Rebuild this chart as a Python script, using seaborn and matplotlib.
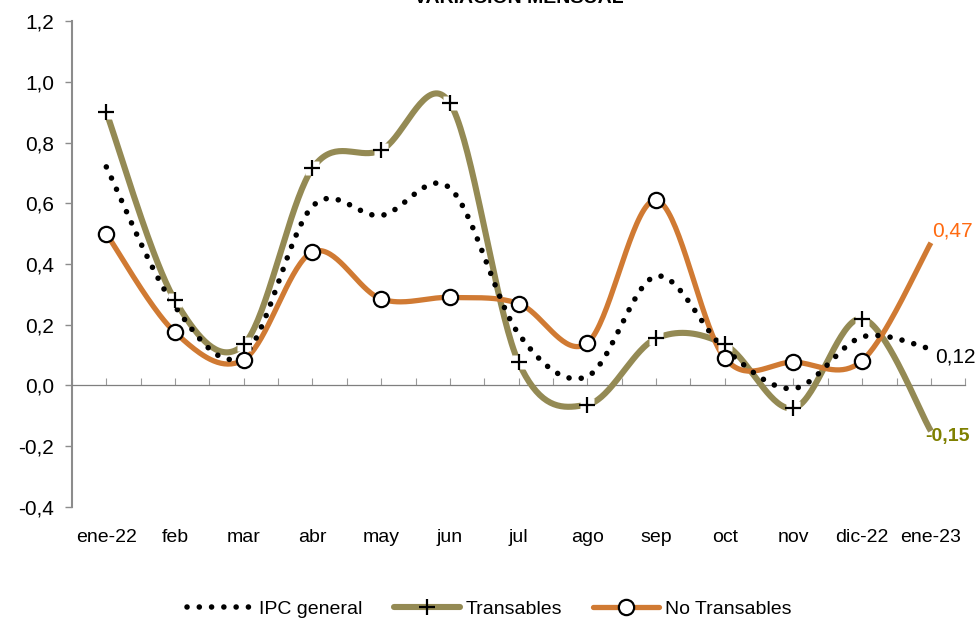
import numpy as np
import pandas as pd
import matplotlib
matplotlib.use('Agg')
import matplotlib.pyplot as plt
import seaborn as sns
from matplotlib.lines import Line2D
from matplotlib.ticker import FuncFormatter

meses = ['ene-22', 'feb', 'mar', 'abr', 'may', 'jun', 'jul', 'ago', 'sep', 'oct', 'nov', 'dic-22', 'ene-23']
ipc_general = [0.72, 0.26, 0.10, 0.59, 0.56, 0.65, 0.17, 0.03, 0.36, 0.12, -0.01, 0.16, 0.12]
transables = [0.90, 0.28, 0.135, 0.715, 0.775, 0.93, 0.076, -0.063, 0.155, 0.135, -0.075, 0.22, -0.15]
no_transables = [0.50, 0.175, 0.085, 0.44, 0.285, 0.29, 0.27, 0.14, 0.61, 0.09, 0.077, 0.082, 0.47]

sns.set_theme(style='white')
plt.rcParams['font.family'] = ['Liberation Sans', 'DejaVu Sans']
plt.rcParams['text.color'] = 'black'
plt.rcParams['xtick.labelcolor'] = 'black'
plt.rcParams['ytick.labelcolor'] = 'black'

OLIVA = '#948A54'
NARANJA = '#D07A33'
FS = 14


def suavizar(y, n=40):
    # curva suavizada tipo Excel (Bezier con puntos de control Catmull-Rom)
    x = np.arange(len(y), dtype=float)
    y = np.asarray(y, dtype=float)
    xs, ys = [], []
    for i in range(len(y) - 1):
        i0, i3 = max(i - 1, 0), min(i + 2, len(y) - 1)
        p0, p1, p2, p3 = [np.array([x[k], y[k]]) for k in (i0, i, i + 1, i3)]
        c1 = p1 + (p2 - p0) / 6
        c2 = p2 - (p3 - p1) / 6
        t = np.linspace(0, 1, n)[:, None]
        b = (1 - t) ** 3 * p1 + 3 * (1 - t) ** 2 * t * c1 + 3 * (1 - t) * t ** 2 * c2 + t ** 3 * p2
        xs.extend(b[:, 0])
        ys.extend(b[:, 1])
    return pd.DataFrame({'x': xs, 'y': ys})


fig = plt.figure(figsize=(9.79, 6.22), dpi=100)
ax = fig.add_axes([0.0735, 0.185, 0.9125, 0.781])

df_ipc = suavizar(ipc_general)
df_tr = suavizar(transables)
df_nt = suavizar(no_transables)

sns.lineplot(data=df_tr, x='x', y='y', sort=False, estimator=None, color=OLIVA, lw=4.4, ax=ax,
             solid_capstyle='butt', zorder=3)
sns.lineplot(data=df_nt, x='x', y='y', sort=False, estimator=None, color=NARANJA, lw=3.8, ax=ax,
             solid_capstyle='butt', zorder=4)
sns.lineplot(data=df_ipc, x='x', y='y', sort=False, estimator=None, color='black', lw=4.0, ax=ax,
             zorder=5)
ax.lines[-1].set_dashes((0.01, 2.2))
ax.lines[-1].set_dash_capstyle('round')

idx = np.arange(len(meses) - 1)
ax.plot(idx, transables[:-1], ls='none', marker='s', ms=10, mfc='white', mec='none', zorder=6)
ax.plot(idx, transables[:-1], ls='none', marker='+', ms=11, mec='black', mew=1.6, zorder=7)
ax.plot(idx, no_transables[:-1], ls='none', marker='o', ms=11, mfc='white', mec='black', mew=1.6, zorder=8)

# etiquetas del último dato
ult = len(meses) - 1
fmt = lambda v: f'{v:.2f}'.replace('.', ',')
ax.annotate(fmt(no_transables[-1]), (ult, no_transables[-1]), xytext=(1, 2), textcoords='offset points',
            color='#FF6A10', fontsize=FS + 1, va='bottom', ha='left')
ax.annotate(fmt(ipc_general[-1]), (ult, ipc_general[-1]), xytext=(3, -6), textcoords='offset points',
            color='black', fontsize=FS + 1, va='center', ha='left')
ax.annotate(fmt(transables[-1]), (ult, transables[-1]), xytext=(-4, 2), textcoords='offset points',
            color='#7F8000', fontsize=FS, fontweight='bold', va='top', ha='left')

ax.set_xlim(-0.5, len(meses) - 0.5)
ax.set_ylim(-0.4, 1.2)
ax.set_yticks(np.arange(-0.4, 1.21, 0.2))
ax.yaxis.set_major_formatter(FuncFormatter(lambda v, p: f'{v:.1f}'.replace('.', ',').replace('-0,0', '0,0')))
ax.tick_params(axis='y', left=True, length=5, width=1, color='#8C8C8C', labelsize=FS + 1, pad=8)

# eje x en el cero con marcas cada media categoría
for s in ['top', 'right']:
    ax.spines[s].set_visible(False)
ax.spines['left'].set_color('#8C8C8C')
ax.spines['left'].set_linewidth(1.5)
ax.spines['bottom'].set_position(('data', 0))
ax.spines['bottom'].set_color('#7F7F7F')
ax.spines['bottom'].set_linewidth(0.9)
ax.spines['bottom'].set_linestyle((0, (2, 1)))
ax.set_xticks(np.arange(-0.5, len(meses), 0.5))
ax.tick_params(axis='x', bottom=True, direction='in', length=5, width=0.8, color='#9A9A9A', labelbottom=False)

sec = ax.secondary_xaxis(0.0)
sec.set_xticks(range(len(meses)))
sec.set_xticklabels(meses)
sec.tick_params(length=0, labelsize=FS, pad=16, labelcolor='black')
sec.spines['bottom'].set_visible(False)

ax.set_xlabel('')
ax.set_ylabel('')
ax.set_title('VARIACIÓN MENSUAL', fontsize=14, fontweight='bold', pad=0, y=1.038)

handles = [
    Line2D([], [], color='black', lw=4.0, dashes=(0.01, 2.2), dash_capstyle='round'),
    Line2D([], [], color=OLIVA, lw=4.4, marker='+', ms=11, mec='black', mew=1.6),
    Line2D([], [], color=NARANJA, lw=3.8, marker='o', ms=11, mfc='white', mec='black', mew=1.6),
]
fig.legend(handles, ['IPC general', 'Transables', 'No Transables'], loc='lower center',
           bbox_to_anchor=(0.5, -0.022), ncol=3, frameon=False, fontsize=FS,
           handlelength=3.4, handletextpad=0.3, columnspacing=1.6)

fig.savefig('out.png', dpi=100)
